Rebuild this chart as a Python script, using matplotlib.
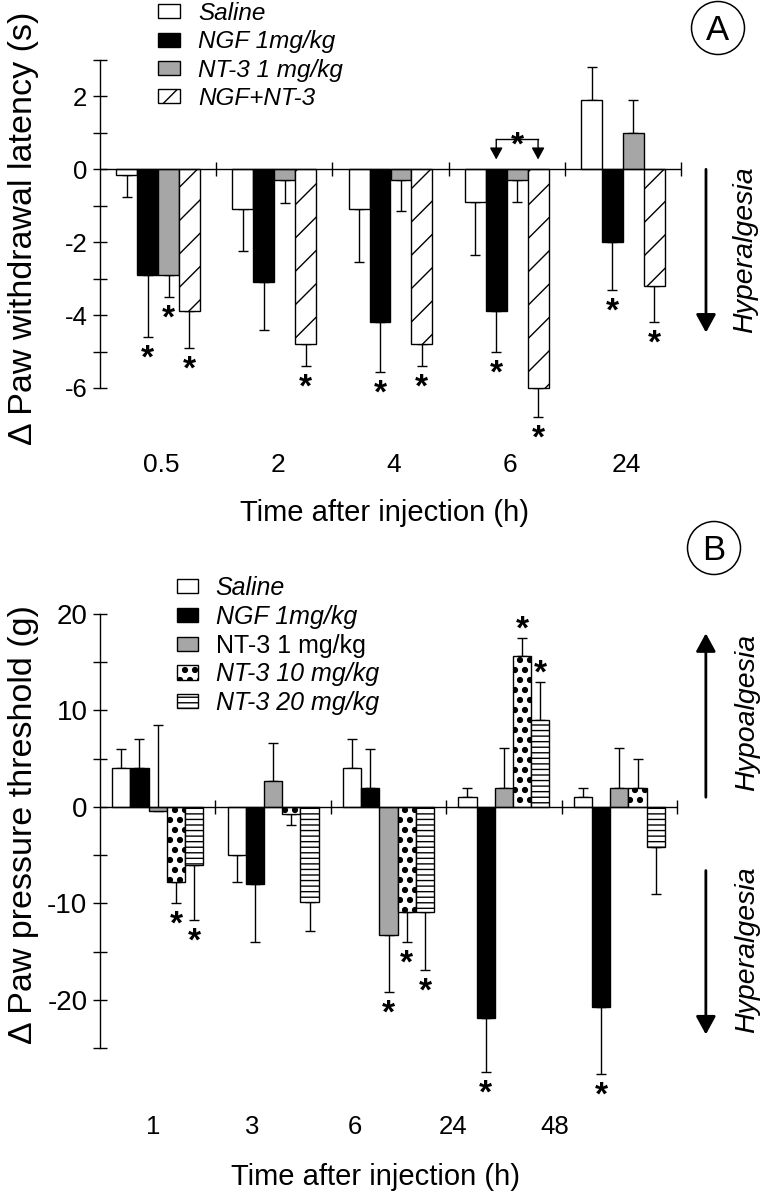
import matplotlib
matplotlib.use('Agg')
import matplotlib.pyplot as plt
import matplotlib.hatch as mhatch
from matplotlib.patches import Ellipse
import numpy as np

plt.rcParams['font.family'] = ['Liberation Sans', 'DejaVu Sans']
plt.rcParams['hatch.linewidth'] = 1.0
plt.rcParams['axes.unicode_minus'] = False


# larger filled dots for the '.' hatch (polka-dot fill)
class BigDots(mhatch.Circles):
    size = 0.24
    filled = True

    def __init__(self, hatch, density):
        self.num_rows = hatch.count('.') * 10
        super().__init__(hatch, density)


_i = mhatch._hatch_types.index(mhatch.SmallFilledCircles)
mhatch._hatch_types[_i] = BigDots

# ---------------- data: panel A ----------------
times_A = ['0.5', '2', '4', '6', '24']
labels_A = ['Saline', 'NGF 1mg/kg', 'NT-3 1 mg/kg', 'NGF+NT-3']
saline_A = [-0.15, -1.1, -1.1, -0.9, 1.9]
saline_A_err = [-0.6, -1.15, -1.45, -1.45, 0.9]
ngf_A = [-2.9, -3.1, -4.2, -3.9, -2.0]
ngf_A_err = [-1.7, -1.3, -1.35, -1.1, -1.3]
nt3_A = [-2.9, -0.3, -0.3, -0.3, 1.0]
nt3_A_err = [-0.6, -0.63, -0.85, -0.6, 0.9]
combo_A = [-3.9, -4.8, -4.8, -6.0, -3.2]
combo_A_err = [-1.0, -0.6, -0.6, -0.8, -1.0]
saline_A_sig = [0, 0, 0, 0, 0]
ngf_A_sig = [1, 0, 1, 1, 1]
nt3_A_sig = [1, 0, 0, 0, 0]
combo_A_sig = [1, 1, 1, 1, 1]
bracket_A_y = [0.82, 0.27]

# ---------------- data: panel B ----------------
times_B = ['1', '3', '6', '24', '48']
labels_B = ['Saline', 'NGF 1mg/kg', 'NT-3 1 mg/kg', 'NT-3 10 mg/kg', 'NT-3 20 mg/kg']
saline_B = [4.0, -5.0, 4.0, 1.0, 1.0]
saline_B_err = [2.0, -2.8, 3.0, 1.0, 1.0]
ngf_B = [4.0, -8.0, 2.0, -21.9, -20.8]
ngf_B_err = [3.0, -6.0, 4.0, -5.6, -6.9]
nt3_1_B = [-0.4, 2.7, -13.3, 2.0, 2.0]
nt3_1_B_err = [8.9, 3.9, -5.9, 4.1, 4.1]
nt3_10_B = [-7.8, -0.7, -10.9, 15.6, 2.0]
nt3_10_B_err = [-2.2, -1.2, -3.1, 1.9, 3.0]
nt3_20_B = [-6.0, -9.9, -10.9, 9.0, -4.2]
nt3_20_B_err = [-5.7, -3.0, -6.0, 3.9, -4.8]
saline_B_sig = [0, 0, 0, 0, 0]
ngf_B_sig = [0, 0, 0, 1, 1]
nt3_1_B_sig = [0, 0, 1, 0, 0]
nt3_10_B_sig = [1, 0, 1, 1, 0]
nt3_20_B_sig = [1, 0, 1, 1, 0]
ticklabel_pos_B = [-0.04, 0.82, 1.71, 2.56, 3.44]

GRAY = '#a6a6a6'
STAR_FS = 24

fig = plt.figure(figsize=(7.68, 12), dpi=100)
W, H = 768.0, 1200.0
axA = fig.add_axes([100 / W, 1 - 388 / H, 581 / W, 328 / H])
axB = fig.add_axes([100 / W, 1 - 1048 / H, 577 / W, 434 / H])


def star(ax, x, y, dy):
    ax.annotate('*', xy=(x, y), xytext=(0, dy), textcoords='offset points',
                ha='center', va='baseline', fontsize=STAR_FS, fontweight='bold',
                annotation_clip=False)


def draw_panel(ax, series, width):
    n = len(series)
    idx = np.arange(len(series[0][0]))
    handles = []
    offsets = []
    for j, (vals, errs, sig, fc, hatch) in enumerate(series):
        off = (j - (n - 1) / 2) * width
        offsets.append(off)
        x = idx + off
        vals = np.asarray(vals, float)
        errs = np.asarray(errs, float)
        lower = np.where(errs < 0, -errs, 0)
        upper = np.where(errs > 0, errs, 0)
        eb = ax.errorbar(x, vals, yerr=[lower, upper], fmt='none', ecolor='k',
                         elinewidth=1.0, capsize=3.6, capthick=1.0, zorder=1)
        for art in eb.lines[1] + eb.lines[2]:
            art.set_clip_on(False)
        b = ax.bar(x, vals, width, color=fc, edgecolor='k', linewidth=1.0,
                   hatch=hatch, zorder=2)
        for p in b.patches:
            p.set_clip_on(False)
        handles.append(b)
        for xi, v, e, s in zip(x, vals, errs, sig):
            if s:
                end = v + e
                if e < 0:
                    star(ax, xi, end, -22)
                else:
                    star(ax, xi, end, 0)
    ax.axhline(0, color='k', lw=1.0, zorder=3)
    bounds = np.arange(0.5, len(idx), 1.0)
    ax.plot(bounds, np.zeros_like(bounds), ls='none', marker='|', ms=10,
            mew=1.0, color='k', clip_on=False, zorder=3)
    ax.set_xlim(-0.5, len(idx) - 0.5)
    for s in ['top', 'right', 'bottom']:
        ax.spines[s].set_visible(False)
    ax.spines['left'].set_linewidth(1.0)
    ax.tick_params(axis='y', which='both', direction='inout', length=10,
                   width=1.0, pad=4)
    ax.tick_params(axis='x', length=0)
    return handles, offsets


ARROW = dict(arrowstyle='-|>,head_length=0.55,head_width=0.3', color='k',
             lw=2.0, mutation_scale=20, shrinkA=0, shrinkB=0)

# ---------------- panel A ----------------
series_A = [
    (saline_A, saline_A_err, saline_A_sig, 'white', None),
    (ngf_A, ngf_A_err, ngf_A_sig, 'black', None),
    (nt3_A, nt3_A_err, nt3_A_sig, GRAY, None),
    (combo_A, combo_A_err, combo_A_sig, 'white', '/'),
]
hA, offA = draw_panel(axA, series_A, 0.18)
axA.set_ylim(-6, 3)
axA.set_yticks([-6, -4, -2, 0, 2])
axA.set_yticks([-5, -3, -1, 1, 3], minor=True)
axA.tick_params(axis='y', labelsize=18.5)
axA.set_xticks(np.arange(len(times_A)) + 0.03)
axA.set_xticklabels(times_A, fontsize=19)
axA.tick_params(axis='x', pad=47)
axA.set_xlabel('Time after injection (h)', fontsize=21, va='center')
axA.xaxis.set_label_coords(0.4905, -0.381)
axA.set_ylabel('\u0394 Paw withdrawal latency (s)', fontsize=24.5, va='center')
axA.yaxis.set_label_coords(-0.1325, 0.488)

# bracket between NGF and NGF+NT-3 at 6 h
gx = 3
x1, x2 = gx + offA[1], gx + offA[3]
axA.plot([x1, x2], [bracket_A_y[0]] * 2, color='k', lw=1.0)
for xx in (x1, x2):
    axA.annotate('', xy=(xx, bracket_A_y[1]), xytext=(xx, bracket_A_y[0]),
                 arrowprops=dict(arrowstyle='-|>,head_length=0.55,head_width=0.3',
                                 color='k', lw=1.0, mutation_scale=13,
                                 shrinkA=0, shrinkB=0))
star(axA, (x1 + x2) / 2, bracket_A_y[0], -11)

# Hyperalgesia arrow (A)
axA.annotate('', xy=(4.715, -4.48), xytext=(4.715, 0), annotation_clip=False,
             arrowprops=ARROW)
fig.text(745 / W, 1 - 250 / H, 'Hyperalgesia', rotation=90, ha='center',
         va='center', style='italic', fontsize=20.5)

legA = axA.legend(hA, labels_A, loc='upper left', bbox_to_anchor=(158 / W, 1 - 2 / H),
                  bbox_transform=fig.transFigure, frameon=False,
                  prop={'style': 'italic', 'size': 17.5}, handlelength=0.9,
                  handleheight=0.5, handletextpad=0.75, labelspacing=0.22,
                  borderpad=0, borderaxespad=0)

# circled A
fig.add_artist(Ellipse((718 / W, 1 - 28 / H), 53 / W, 53 / H,
                       transform=fig.transFigure, fill=False, lw=1.1, color='k'))
fig.text(718 / W, 1 - 40.5 / H, 'A', ha='center', va='baseline', fontsize=25)

# ---------------- panel B ----------------
series_B = [
    (saline_B, saline_B_err, saline_B_sig, 'white', None),
    (ngf_B, ngf_B_err, ngf_B_sig, 'black', None),
    (nt3_1_B, nt3_1_B_err, nt3_1_B_sig, GRAY, None),
    (nt3_10_B, nt3_10_B_err, nt3_10_B_sig, 'white', '.'),
    (nt3_20_B, nt3_20_B_err, nt3_20_B_sig, 'white', '---'),
]
hB, offB = draw_panel(axB, series_B, 0.158)
axB.set_ylim(-25, 20)
axB.set_yticks([-20, -10, 0, 10, 20])
axB.set_yticks([-25, -15, -5, 5, 15], minor=True)
axB.tick_params(axis='y', labelsize=20)
axB.set_xticks(ticklabel_pos_B)
axB.set_xticklabels(times_B, fontsize=18.5)
axB.tick_params(axis='x', pad=48)
axB.set_xlabel('Time after injection (h)', fontsize=21, va='center')
axB.xaxis.set_label_coords(0.478, -0.297)
axB.set_ylabel('\u0394 Paw pressure threshold (g)', fontsize=24.5, va='center')
axB.yaxis.set_label_coords(-0.1334, 0.514)

axB.annotate('', xy=(4.75, 18.0), xytext=(4.75, 1.0), annotation_clip=False,
             arrowprops=ARROW)
axB.annotate('', xy=(4.75, -23.6), xytext=(4.75, -6.6), annotation_clip=False,
             arrowprops=ARROW)
fig.text(747 / W, 1 - 712 / H, 'Hypoalgesia', rotation=90, ha='center',
         va='center', style='italic', fontsize=20.5)
fig.text(747 / W, 1 - 950 / H, 'Hyperalgesia', rotation=90, ha='center',
         va='center', style='italic', fontsize=20.5)

legB = axB.legend(hB, labels_B, loc='upper left', bbox_to_anchor=(177 / W, 1 - 576 / H),
                  bbox_transform=fig.transFigure, frameon=False,
                  prop={'style': 'italic', 'size': 18}, handlelength=0.85,
                  handleheight=0.5, handletextpad=0.7, labelspacing=0.19,
                  borderpad=0, borderaxespad=0)
legB.get_texts()[2].set_style('normal')

fig.add_artist(Ellipse((714 / W, 1 - 548 / H), 53 / W, 53 / H,
                       transform=fig.transFigure, fill=False, lw=1.1, color='k'))
fig.text(714 / W, 1 - 560.5 / H, 'B', ha='center', va='baseline', fontsize=25)

fig.savefig('out.png', dpi=100, facecolor='white')
